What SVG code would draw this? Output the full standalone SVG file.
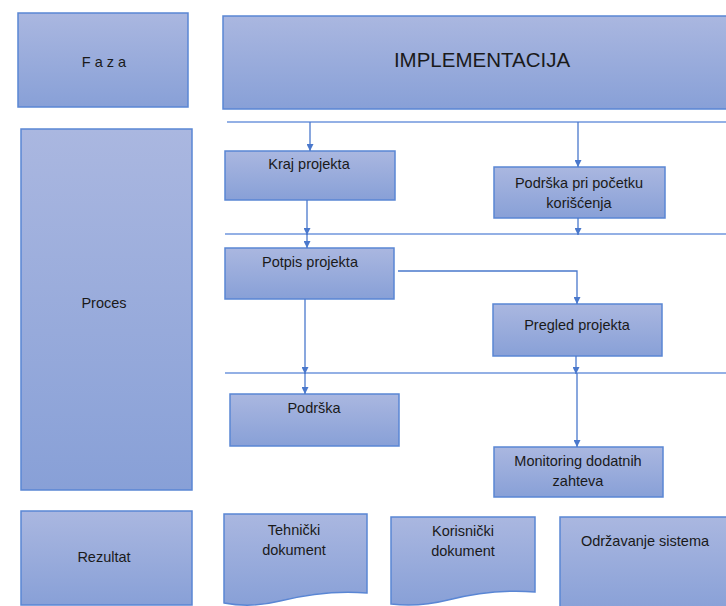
<svg xmlns="http://www.w3.org/2000/svg" width="726" height="606" viewBox="0 0 726 606">
  <defs>
    <linearGradient id="boxFill" x1="0" y1="0" x2="0" y2="1">
      <stop offset="0" stop-color="#aab7e0"/>
      <stop offset="1" stop-color="#88a0d7"/>
    </linearGradient>
    <marker id="arrow" viewBox="0 0 10 10" refX="10" refY="5" markerWidth="7" markerHeight="7" markerUnits="userSpaceOnUse" orient="auto">
      <path d="M0,0 L10,5 L0,10 z" fill="#4a78cc"/>
    </marker>
  </defs>
  <style>
    .box { fill: url(#boxFill); stroke: #5a86d4; stroke-width: 1.5; }
    .lbl { font-family: "Liberation Sans", Arial, sans-serif; font-size: 14.5px; fill: #1a1a1a; text-anchor: middle; }
    .big { font-size: 20.5px; }
    .sep { stroke: #6f96dc; stroke-width: 1.5; fill: none; }
    .conn { stroke: #4a78cc; stroke-width: 1.3; fill: none; marker-end: url(#arrow); }
  </style>
  <rect width="726" height="606" fill="#ffffff"/>

  <!-- row headers -->
  <g id="faza">
    <rect class="box" x="18" y="13" width="170" height="94"/>
    <text class="lbl" x="104" y="67" font-size="13.5">F a z a</text>
  </g>
  <g id="implementacija">
    <rect class="box" x="223" y="16" width="510" height="93"/>
    <text class="lbl big" x="482" y="67">IMPLEMENTACIJA</text>
  </g>
  <g id="proces">
    <rect class="box" x="21" y="129" width="171" height="361"/>
    <text class="lbl" x="104" y="308">Proces</text>
  </g>
  <g id="rezultat">
    <rect class="box" x="21" y="511" width="171" height="94"/>
    <text class="lbl" x="104" y="562">Rezultat</text>
  </g>

  <!-- separators -->
  <g id="separators">
    <line class="sep" x1="227" y1="122" x2="726" y2="122"/>
    <line class="sep" x1="225" y1="234" x2="726" y2="234"/>
    <line class="sep" x1="225" y1="373" x2="726" y2="373"/>
  </g>

  <!-- process steps -->
  <g id="kraj-projekta">
    <rect class="box" x="225" y="151" width="170" height="49"/>
    <text class="lbl" x="309" y="169">Kraj projekta</text>
  </g>
  <g id="podrska-pocetak">
    <rect class="box" x="494" y="167" width="171" height="51"/>
    <text class="lbl" x="579" y="188">Podrška pri početku</text>
    <text class="lbl" x="579" y="208">korišćenja</text>
  </g>
  <g id="potpis-projekta">
    <rect class="box" x="225" y="248" width="169" height="51"/>
    <text class="lbl" x="310" y="267">Potpis projekta</text>
  </g>
  <g id="pregled-projekta">
    <rect class="box" x="493" y="304" width="169" height="52"/>
    <text class="lbl" x="577" y="330">Pregled projekta</text>
  </g>
  <g id="podrska">
    <rect class="box" x="230" y="394" width="169" height="52"/>
    <text class="lbl" x="314" y="413">Podrška</text>
  </g>
  <g id="monitoring">
    <rect class="box" x="494" y="447" width="169" height="50"/>
    <text class="lbl" x="578" y="466">Monitoring dodatnih</text>
    <text class="lbl" x="578" y="486">zahteva</text>
  </g>

  <!-- deliverables -->
  <g id="tehnicki-dokument">
    <path class="box" d="M224,514 L367,514 L367,593 C330,590 300,596 280,601 C260,606 240,606 224,603 Z"/>
    <text class="lbl" x="294" y="535">Tehnički</text>
    <text class="lbl" x="294" y="555">dokument</text>
  </g>
  <g id="korisnicki-dokument">
    <path class="box" d="M391,517 L535,517 L535,592 C498,589 468,595 448,600 C428,605 408,606 391,604 Z"/>
    <text class="lbl" x="463" y="536">Korisnički</text>
    <text class="lbl" x="463" y="556">dokument</text>
  </g>
  <g id="odrzavanje">
    <rect class="box" x="560" y="517" width="180" height="95"/>
    <text class="lbl" x="645" y="546">Održavanje sistema</text>
  </g>

  <!-- connectors -->
  <g id="connectors">
    <line class="conn" x1="310" y1="122" x2="310" y2="151"/>
    <line class="conn" x1="578" y1="122" x2="578" y2="167"/>
    <line class="conn" x1="578" y1="218" x2="578" y2="235"/>
    <line class="conn" x1="307" y1="200" x2="307" y2="235"/>
    <line class="conn" x1="307" y1="234" x2="307" y2="248"/>
    <polyline class="conn" points="398,271 577,271 577,304"/>
    <line class="conn" x1="305" y1="299" x2="305" y2="374"/>
    <line class="conn" x1="305" y1="373" x2="305" y2="394"/>
    <line class="conn" x1="576" y1="356" x2="576" y2="374"/>
    <line class="conn" x1="577" y1="373" x2="577" y2="447"/>
  </g>
</svg>
